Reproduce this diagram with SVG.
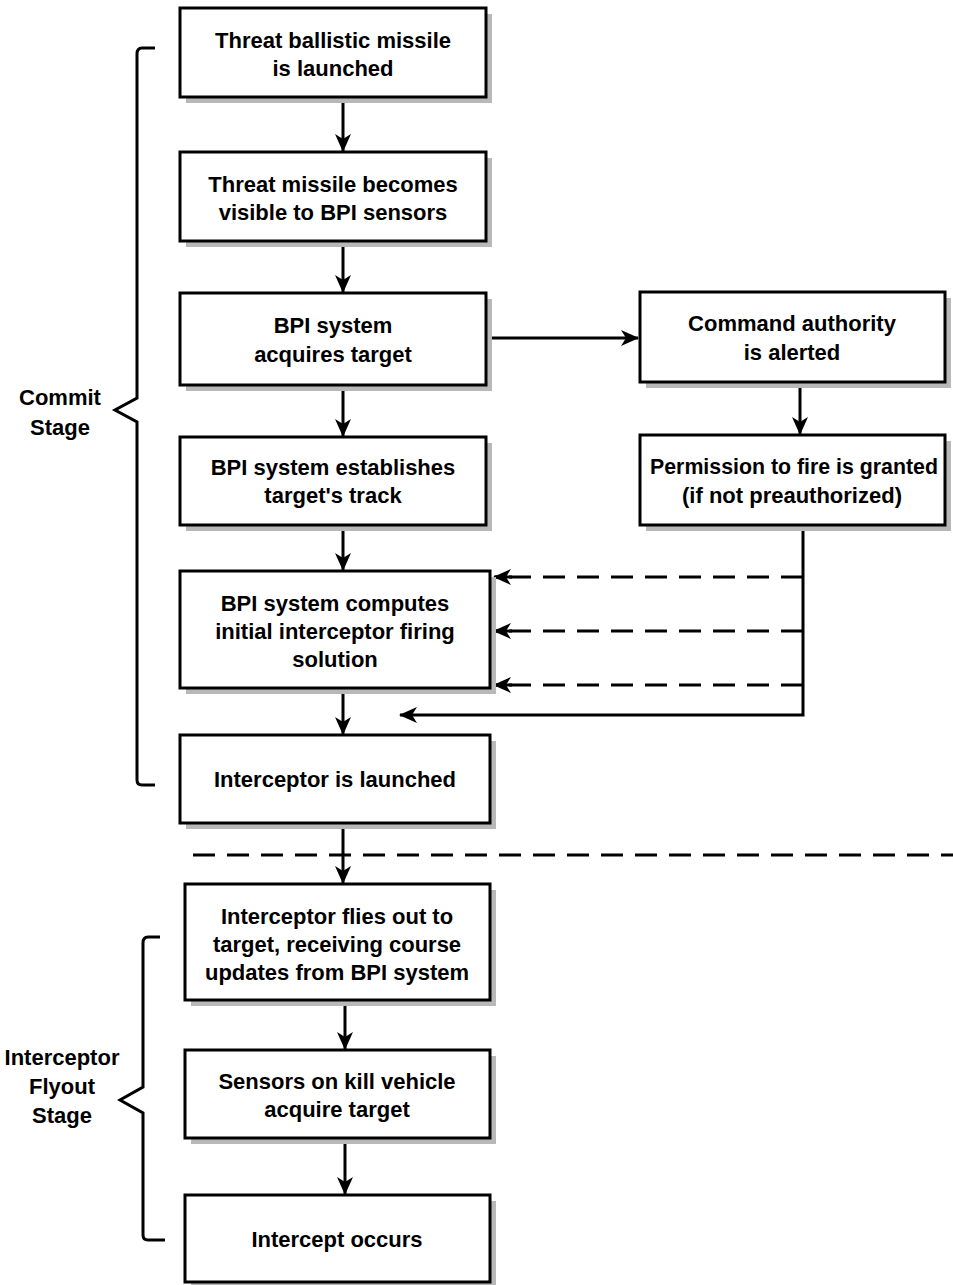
<svg xmlns="http://www.w3.org/2000/svg" width="953" height="1285" viewBox="0 0 953 1285">
<style>
.box{fill:#fff;stroke:#000;stroke-width:3}
.shadow{fill:#b8b8b8}
.t{font-family:"Liberation Sans Narrow","Liberation Sans",sans-serif;font-weight:bold;font-size:22px;text-anchor:middle;fill:#000}
.lbl{font-family:"Liberation Sans Narrow","Liberation Sans",sans-serif;font-weight:bold;font-size:22px;text-anchor:middle;fill:#000}
.ln{fill:none;stroke:#000;stroke-width:3}
.dash{fill:none;stroke:#000;stroke-width:3;stroke-dasharray:22,12}
.brace{fill:none;stroke:#000;stroke-width:3;stroke-linejoin:miter}
</style>
<defs>
<marker id="ah" viewBox="0 0 18 16" refX="17" refY="8" markerWidth="18" markerHeight="16" markerUnits="userSpaceOnUse" orient="auto">
<path d="M0,0 L18,8 L0,16 L5,8 Z" fill="#000"/>
</marker>
</defs>
<rect width="953" height="1285" fill="#fff"/>

<g id="connectors">
<line class="ln" x1="343" y1="97" x2="343" y2="151" marker-end="url(#ah)"/>
<line class="ln" x1="343" y1="241" x2="343" y2="292" marker-end="url(#ah)"/>
<line class="ln" x1="343" y1="385" x2="343" y2="436" marker-end="url(#ah)"/>
<line class="ln" x1="343" y1="525" x2="343" y2="570" marker-end="url(#ah)"/>
<line class="ln" x1="343" y1="688" x2="343" y2="734" marker-end="url(#ah)"/>
<line class="ln" x1="343" y1="823" x2="343" y2="883" marker-end="url(#ah)"/>
<line class="ln" x1="345" y1="1000" x2="345" y2="1049" marker-end="url(#ah)"/>
<line class="ln" x1="345" y1="1138" x2="345" y2="1194" marker-end="url(#ah)"/>
<line class="ln" x1="486" y1="338" x2="638" y2="338" marker-end="url(#ah)"/>
<line class="ln" x1="800" y1="382" x2="800" y2="434" marker-end="url(#ah)"/>
<polyline class="ln" points="803,525 803,715 400,715" marker-end="url(#ah)"/>
<line class="dash" x1="803" y1="577" x2="495" y2="577"/>
<line class="dash" x1="803" y1="631" x2="495" y2="631"/>
<line class="dash" x1="803" y1="685" x2="495" y2="685"/>
<line class="ln" x1="512" y1="577" x2="494" y2="577" marker-end="url(#ah)"/>
<line class="ln" x1="512" y1="631" x2="494" y2="631" marker-end="url(#ah)"/>
<line class="ln" x1="512" y1="685" x2="494" y2="685" marker-end="url(#ah)"/>
<line class="dash" x1="193" y1="855" x2="953" y2="855"/>
</g>

<g id="n1"><rect class="shadow" x="186" y="14" width="306" height="89"/><rect class="box" x="180" y="8" width="306" height="89"/>
<text class="t" x="333" y="48">Threat ballistic missile</text><text class="t" x="333" y="76">is launched</text></g>
<g id="n2"><rect class="shadow" x="186" y="158" width="306" height="89"/><rect class="box" x="180" y="152" width="306" height="89"/>
<text class="t" x="333" y="192">Threat missile becomes</text><text class="t" x="333" y="220">visible to BPI sensors</text></g>
<g id="n3"><rect class="shadow" x="186" y="299" width="306" height="92"/><rect class="box" x="180" y="293" width="306" height="92"/>
<text class="t" x="333" y="333">BPI system</text><text class="t" x="333" y="362">acquires target</text></g>
<g id="nA"><rect class="shadow" x="646" y="298" width="305" height="90"/><rect class="box" x="640" y="292" width="305" height="90"/>
<text class="t" x="792" y="331">Command authority</text><text class="t" x="792" y="360">is alerted</text></g>
<g id="n4"><rect class="shadow" x="186" y="443" width="306" height="88"/><rect class="box" x="180" y="437" width="306" height="88"/>
<text class="t" x="333" y="475">BPI system establishes</text><text class="t" x="333" y="503">target's track</text></g>
<g id="nB"><rect class="shadow" x="646" y="441" width="305" height="90"/><rect class="box" x="640" y="435" width="305" height="90"/>
<text class="t" x="794" y="474" textLength="288" lengthAdjust="spacingAndGlyphs">Permission to fire is granted</text><text class="t" x="792" y="503">(if not preauthorized)</text></g>
<g id="n5"><rect class="shadow" x="186" y="577" width="310" height="117"/><rect class="box" x="180" y="571" width="310" height="117"/>
<text class="t" x="335" y="611">BPI system computes</text><text class="t" x="335" y="639">initial interceptor firing</text><text class="t" x="335" y="667">solution</text></g>
<g id="n6"><rect class="shadow" x="186" y="741" width="310" height="88"/><rect class="box" x="180" y="735" width="310" height="88"/>
<text class="t" x="335" y="787">Interceptor is launched</text></g>
<g id="n7"><rect class="shadow" x="191" y="890" width="305" height="116"/><rect class="box" x="185" y="884" width="305" height="116"/>
<text class="t" x="337" y="924">Interceptor flies out to</text><text class="t" x="337" y="952">target, receiving course</text><text class="t" x="337" y="980">updates from BPI system</text></g>
<g id="n8"><rect class="shadow" x="191" y="1056" width="305" height="88"/><rect class="box" x="185" y="1050" width="305" height="88"/>
<text class="t" x="337" y="1089">Sensors on kill vehicle</text><text class="t" x="337" y="1117">acquire target</text></g>
<g id="n9"><rect class="shadow" x="191" y="1201" width="305" height="84"/><rect class="box" x="185" y="1195" width="305" height="87"/>
<text class="t" x="337" y="1247">Intercept occurs</text></g>

<g id="commit-stage">
<path class="brace" d="M155,48 L142,48 Q137,48 137,54 L137,398 L115,410 L137,422 L137,780 Q137,785 142,785 L155,785"/>
<text class="lbl" x="60" y="405">Commit</text><text class="lbl" x="60" y="435">Stage</text>
</g>
<g id="flyout-stage">
<path class="brace" d="M160,937 L148,937 Q143,937 143,943 L143,1087 L120,1100 L143,1113 L143,1235 Q143,1240 148,1240 L165,1240"/>
<text class="lbl" x="62" y="1065">Interceptor</text><text class="lbl" x="62" y="1094">Flyout</text><text class="lbl" x="62" y="1123">Stage</text>
</g>
</svg>
